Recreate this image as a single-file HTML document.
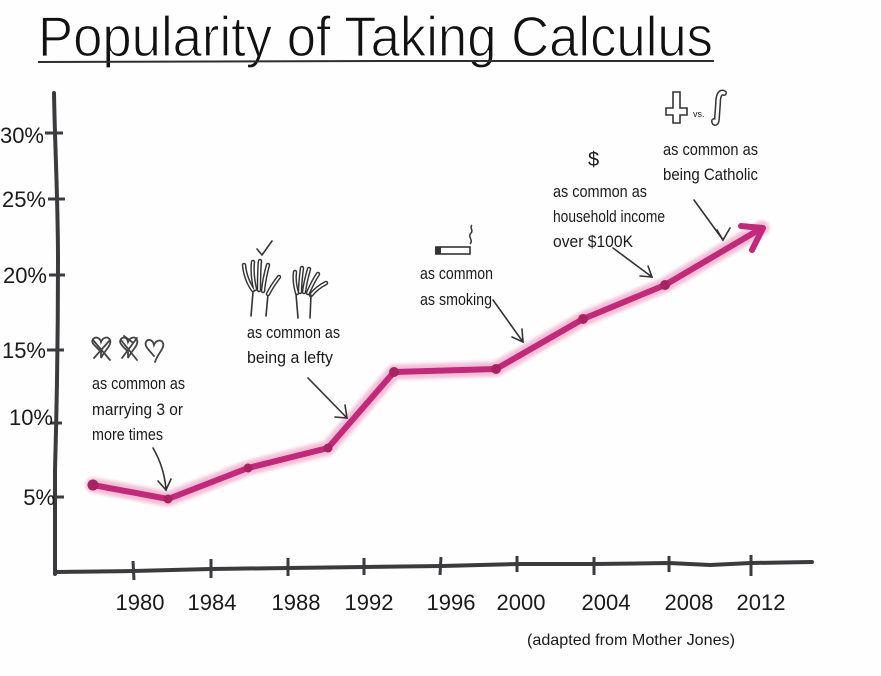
<!DOCTYPE html>
<html><head><meta charset="utf-8"><style>
html,body{margin:0;padding:0;background:#fff;}
svg{display:block;}
text{font-family:"Liberation Sans",sans-serif;fill:#1a1a1a;}
</style></head><body>
<svg width="881" height="676" viewBox="0 0 881 676" xmlns="http://www.w3.org/2000/svg">
<defs>
<filter id="blur" x="-10%" y="-10%" width="120%" height="120%"><feGaussianBlur stdDeviation="1.6"/></filter>
</defs>
<rect width="881" height="676" fill="#fefefe"/>

<!-- Title -->
<text x="38" y="56" font-size="57" textLength="675" lengthAdjust="spacingAndGlyphs" style="fill:#111;stroke:#fefefe;stroke-width:1.2">Popularity of Taking Calculus</text>
<path d="M38,62 L380,61 L714,61" stroke="#2e2e2e" stroke-width="2" fill="none"/>

<!-- Y axis -->
<path d="M54,93 C55,150 58,200 58,260 C58,330 57,400 55,470 L55,574" stroke="#3b3b3e" stroke-width="4" fill="none" stroke-linecap="round"/>
<g stroke="#3b3b3e" stroke-width="3">
<line x1="45" y1="133" x2="63" y2="133"/>
<line x1="48" y1="199" x2="65" y2="199"/>
<line x1="49" y1="275" x2="65" y2="275"/>
<line x1="47" y1="350" x2="64" y2="350"/>
<line x1="50" y1="423" x2="62" y2="423"/>
<line x1="52" y1="497" x2="64" y2="497"/>
</g>
<g font-size="22" text-anchor="end">
<text x="44" y="143">30%</text>
<text x="46" y="207">25%</text>
<text x="47" y="283">20%</text>
<text x="46" y="358">15%</text>
<text x="53" y="425">10%</text>
<text x="55" y="505">5%</text>
</g>

<!-- X axis -->
<path d="M55,572 L133,571 L211,569 L288,568 L364,567 L442,566 L517,564 L594,564 L669,563 L710,565 L751,563 L812,562" stroke="#3b3b3e" stroke-width="4" fill="none" stroke-linecap="round"/>
<g stroke="#3b3b3e" stroke-width="3">
<line x1="133" y1="561" x2="134" y2="580"/>
<line x1="211" y1="559" x2="211" y2="578"/>
<line x1="288" y1="558" x2="288" y2="576"/>
<line x1="364" y1="558" x2="364" y2="575"/>
<line x1="441" y1="557" x2="440" y2="575"/>
<line x1="517" y1="556" x2="517" y2="572"/>
<line x1="594" y1="557" x2="594" y2="575"/>
<line x1="669" y1="556" x2="669" y2="572"/>
<line x1="751" y1="555" x2="751" y2="576"/>
</g>
<g font-size="22" text-anchor="middle">
<text x="140" y="610">1980</text>
<text x="212" y="610">1984</text>
<text x="296" y="610">1988</text>
<text x="369" y="610">1992</text>
<text x="451" y="610">1996</text>
<text x="521" y="610">2000</text>
<text x="606" y="610">2004</text>
<text x="689" y="610">2008</text>
<text x="761" y="610">2012</text>
</g>
<text x="527" y="645" font-size="16" textLength="208" lengthAdjust="spacingAndGlyphs">(adapted from Mother Jones)</text>

<!-- Data line -->
<path d="M93,485 L168,499 L248,468 L328,448 L394,372 L496,369 L583,319 L665,285 L762,228" stroke="#eeb0cd" stroke-width="15" fill="none" stroke-linejoin="round" stroke-linecap="round" filter="url(#blur)" opacity="0.8"/>
<path d="M93,485 L168,499 L248,468 L328,448 L394,372 L496,369 L583,319 L665,285 L762,228" stroke="#c4287a" stroke-width="6" fill="none" stroke-linejoin="round" stroke-linecap="round"/>
<path d="M741,226 L763,228 L752,250" stroke="#c4287a" stroke-width="6" fill="none" stroke-linejoin="round" stroke-linecap="round"/>
<g fill="#a8235f">
<circle cx="93" cy="485" r="5.5"/>
<circle cx="168" cy="499" r="4.5"/>
<circle cx="248" cy="468" r="4.5"/>
<circle cx="328" cy="448" r="4.5"/>
<circle cx="394" cy="372" r="5"/>
<circle cx="496" cy="369" r="5"/>
<circle cx="583" cy="319" r="5"/>
<circle cx="665" cy="285" r="5"/>
</g>

<!-- Annotation texts -->
<g font-size="17">
<text x="92" y="389" textLength="93" lengthAdjust="spacingAndGlyphs">as common as</text>
<text x="92" y="415" textLength="91" lengthAdjust="spacingAndGlyphs">marrying 3 or</text>
<text x="92" y="440" textLength="71" lengthAdjust="spacingAndGlyphs">more times</text>

<text x="247" y="338" textLength="93" lengthAdjust="spacingAndGlyphs">as common as</text>
<text x="247" y="363" textLength="86" lengthAdjust="spacingAndGlyphs">being a lefty</text>

<text x="420" y="279" textLength="73" lengthAdjust="spacingAndGlyphs">as common</text>
<text x="420" y="305" textLength="72" lengthAdjust="spacingAndGlyphs">as smoking</text>

<text x="553" y="197" textLength="94" lengthAdjust="spacingAndGlyphs">as common as</text>
<text x="553" y="222" textLength="112" lengthAdjust="spacingAndGlyphs">household income</text>
<text x="553" y="247" textLength="80" lengthAdjust="spacingAndGlyphs">over $100K</text>

<text x="663" y="155" textLength="95" lengthAdjust="spacingAndGlyphs">as common as</text>
<text x="663" y="180" textLength="95" lengthAdjust="spacingAndGlyphs">being Catholic</text>
</g>

<!-- Annotation arrows -->
<g stroke="#333" stroke-width="1.6" fill="none" stroke-linecap="round">
<path d="M153,448 C160,460 165,475 166,490"/>
<path d="M158,481 L166,490 L171,479"/>
<path d="M308,378 L347,418"/>
<path d="M345,405 L347,418 L335,417"/>
<path d="M493,300 L523,342"/>
<path d="M522,329 L523,342 L512,337"/>
<path d="M613,248 L652,277"/>
<path d="M648,266 L652,277 L640,276"/>
<path d="M694,200 L723,240"/>
<path d="M717,230 L723,240 L730,228"/>
</g>

<!-- Hearts -->
<g stroke="#444" stroke-width="1.8" fill="none" stroke-linecap="round">
<path d="M101,352 C96,346 90,343 93,339 C96,336 100,338 101,342 C103,337 108,336 110,340 C112,345 105,350 101,358 Z"/>
<path d="M93,340 L110,360 M110,340 L94,358"/>
<path d="M128,352 C123,346 118,343 121,339 C124,336 127,338 128,342 C130,337 135,336 137,340 C139,345 132,350 128,358 Z"/>
<path d="M121,340 L137,360 M137,338 L122,358 M124,336 L132,342"/>
<path d="M154,356 C149,350 144,346 146,342 C148,338 153,340 154,345 C156,340 161,339 163,343 C165,348 158,353 155,362"/>
</g>

<!-- Hands & check -->
<g stroke="#333" stroke-width="1.6" fill="none" stroke-linecap="round">
<path d="M257,249 L262,255 L272,241"/>
<path d="M251,316 L253,292 M266,316 L268,294"/>
</g>
<g fill="none" stroke-linecap="round">
<g stroke="#333" stroke-width="4.5">
<path d="M253,290 C248,283 245,275 244,265"/>
<path d="M255,289 C253,280 252,270 253,262"/>
<path d="M259,290 C259,280 259,270 260,261"/>
<path d="M263,291 C264,281 266,272 268,265"/>
<path d="M268,294 C271,288 275,282 279,277"/>
<path d="M297,293 C295,286 294,279 295,272"/>
<path d="M300,292 C300,284 301,276 302,268"/>
<path d="M304,292 C305,284 307,276 309,269"/>
<path d="M308,293 C311,286 314,280 318,274"/>
<path d="M311,295 C315,290 320,286 326,283"/>
</g>
<g stroke="#fefefe" stroke-width="1.6">
<path d="M253,290 C248,283 245,275 244,265"/>
<path d="M255,289 C253,280 252,270 253,262"/>
<path d="M259,290 C259,280 259,270 260,261"/>
<path d="M263,291 C264,281 266,272 268,265"/>
<path d="M268,294 C271,288 275,282 279,277"/>
<path d="M297,293 C295,286 294,279 295,272"/>
<path d="M300,292 C300,284 301,276 302,268"/>
<path d="M304,292 C305,284 307,276 309,269"/>
<path d="M308,293 C311,286 314,280 318,274"/>
<path d="M311,295 C315,290 320,286 326,283"/>
</g>
</g>
<g stroke="#333" stroke-width="1.6" fill="none" stroke-linecap="round">
<path d="M298,318 L296,294 M310,318 L311,295"/>
</g>

<!-- Cigarette -->
<g stroke="#333" stroke-width="1.6" fill="none">
<rect x="436" y="247" width="34" height="7"/>
<path d="M470,244 C474,240 467,237 471,233 C474,230 469,228 472,225" stroke-width="1.5"/>
</g>
<rect x="435" y="247" width="6" height="7" fill="#333"/>

<!-- Dollar -->
<text x="588" y="166" font-size="20">$</text>

<!-- Cross vs integral -->
<g stroke="#333" stroke-width="1.6" fill="none">
<path d="M673,92 L680,92 L680,108 L687,108 L687,115 L680,115 L680,123 L673,123 L673,115 L666,115 L666,108 L673,108 Z"/>
</g>
<path d="M724,93 C720,91 718,96 718,104 L717,118 C717,124 714,124 714,121" stroke="#333" stroke-width="6" fill="none" stroke-linecap="round"/>
<path d="M724,93 C720,91 718,96 718,104 L717,118 C717,124 714,124 714,121" stroke="#fefefe" stroke-width="3" fill="none" stroke-linecap="round"/>
<text x="693" y="117" font-size="9">vs.</text>
</svg>
</body></html>
